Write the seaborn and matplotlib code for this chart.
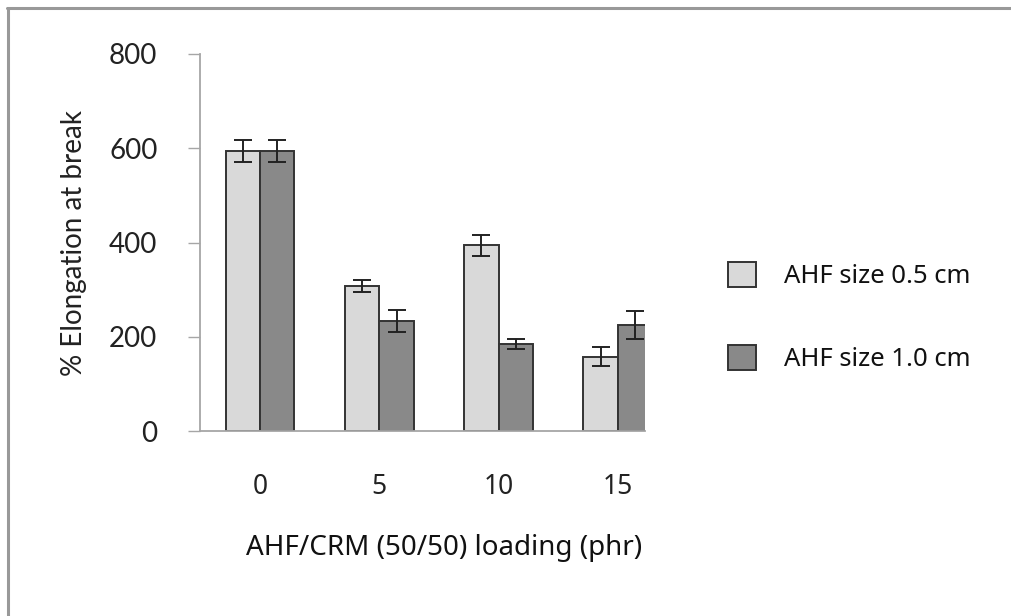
import matplotlib
matplotlib.use("Agg")
import matplotlib.pyplot as plt
from matplotlib.lines import Line2D
from matplotlib.patches import Patch
import seaborn as sns
import pandas as pd
import numpy as np

# Data
loadings = ["0", "5", "10", "15"]
series_names = ["AHF size 0.5 cm", "AHF size 1.0 cm"]
elong_05 = [594, 308, 394, 158]
err_05 = [23, 12, 23, 20]
elong_10 = [594, 234, 185, 226]
err_10 = [23, 23, 11, 30]

colors = ["#D9D9D9", "#898989"]

df = pd.DataFrame({
    "loading": loadings * 2,
    "series": [series_names[0]] * 4 + [series_names[1]] * 4,
    "value": elong_05 + elong_10,
})

sns.set_theme(style="white")

W, H = 1011, 616
fig = plt.figure(figsize=(W / 100, H / 100), dpi=100)
ax = fig.add_axes([200 / W, (H - 431.3) / H, (645 - 200) / W, (431.3 - 54) / H])

sns.barplot(data=df, x="loading", y="value", hue="series", order=loadings,
            hue_order=series_names, palette=colors, width=0.578,
            errorbar=None, edgecolor="#333333", linewidth=1.4,
            legend=False, ax=ax)

errs = [err_05, err_10]
vals = [elong_05, elong_10]
for cont, e, v in zip(ax.containers, errs, vals):
    xs = [p.get_x() + p.get_width() / 2 for p in cont.patches]
    ax.errorbar(xs, v, yerr=e, fmt="none", ecolor="#222222",
                elinewidth=1.4, capsize=6.5, capthick=1.4, zorder=5)

ax.set_xlim(-0.503, 3.227)
ax.set_ylim(0, 800)
ax.set_yticks([0, 200, 400, 600, 800])

for s in ["top", "right"]:
    ax.spines[s].set_visible(False)
for s in ["left", "bottom"]:
    ax.spines[s].set_color("#A6A6A6")
    ax.spines[s].set_linewidth(1.3)

ax.tick_params(axis="y", direction="out", length=8.6, width=1.0,
               color="#A6A6A6", pad=22, labelsize=20, labelcolor="#222222",
               left=True)
ax.tick_params(axis="x", length=0, pad=30, labelsize=19, labelcolor="#222222")
for lab in ax.get_yticklabels():
    lab.set_family("Lato")
for lab in ax.get_xticklabels():
    lab.set_family("Noto Sans")

ax.set_ylabel("% Elongation at break", fontsize=20, family="Lato",
              color="#222222", labelpad=16)
ax.set_xlabel("AHF/CRM (50/50) loading (phr)", fontsize=20,
              family="Noto Sans", color="#111111", labelpad=24)
ax.xaxis.label.set_x((444.5 - 200) / 445)

handles = [Patch(facecolor=c, edgecolor="#333333", linewidth=1.4) for c in colors]
leg = fig.legend(handles, series_names, loc="center left",
                 bbox_to_anchor=(705 / W, 1 - 317 / H),
                 frameon=False, handlelength=1.08,
                 handleheight=1.12, handletextpad=1.08, labelspacing=2.2,
                 prop={"family": "Noto Sans", "size": 18.5})
for t in leg.get_texts():
    t.set_color("#111111")

# Outer border (top and left)
bc = "#999999"
fig.add_artist(Line2D([7 / W, 1], [1 - 7.5 / H, 1 - 7.5 / H], color=bc,
                      lw=2.2, transform=fig.transFigure))
fig.add_artist(Line2D([7.5 / W, 7.5 / W], [0, 1 - 7.5 / H], color=bc,
                      lw=2.2, transform=fig.transFigure))

fig.savefig("out.png", dpi=100, facecolor="white")
